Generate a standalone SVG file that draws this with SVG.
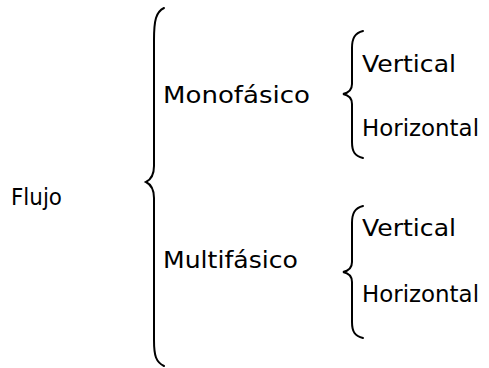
<svg xmlns="http://www.w3.org/2000/svg" width="489" height="368" viewBox="0 0 489 368">
<style>
text{font-family:"DejaVu Sans","Liberation Sans",sans-serif;font-size:23px;fill:#000}
.br{fill:none;stroke:#000;stroke-width:2;stroke-linecap:round}
</style>
<rect width="489" height="368" fill="#fff"/>
<g id="connectors">
<path class="br" d="M164,8 C156,12 154,20 154,40 L154,166 C154,176 150,180 146,182 C150,184 154,188 154,198 L154,340 C154,356 156,362 164,366"/>
<path class="br" d="M363,31 C355,33 352,38 352,48 L352,84 C352,90 348,93 343,94 C348,95 352,98 352,104 L352,142 C352,152 355,156 363,158"/>
<path class="br" d="M363,206 C355,208 352,213 352,223 L352,262 C352,268 348,271 343,272 C348,273 352,276 352,282 L352,322 C352,332 355,336 363,338"/>
</g>
<g id="flujo"><text x="11" y="205" textLength="51" lengthAdjust="spacingAndGlyphs">Flujo</text></g>
<g id="monofasico"><text x="163" y="103" textLength="147" lengthAdjust="spacingAndGlyphs">Monofásico</text></g>
<g id="multifasico"><text x="163" y="268" textLength="135" lengthAdjust="spacingAndGlyphs">Multifásico</text></g>
<g id="vertical1"><text x="362" y="72" textLength="94" lengthAdjust="spacingAndGlyphs">Vertical</text></g>
<g id="horizontal1"><text x="362" y="136" textLength="117" lengthAdjust="spacingAndGlyphs">Horizontal</text></g>
<g id="vertical2"><text x="362" y="236" textLength="94" lengthAdjust="spacingAndGlyphs">Vertical</text></g>
<g id="horizontal2"><text x="362" y="302" textLength="117" lengthAdjust="spacingAndGlyphs">Horizontal</text></g>
</svg>
